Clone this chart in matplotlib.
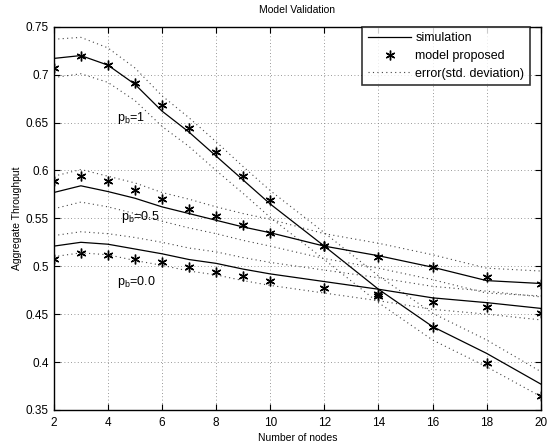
import numpy as np
import matplotlib
matplotlib.use("Agg")
import matplotlib.pyplot as plt

### data
nodes = [2, 3, 4, 5, 6, 7, 8, 9, 10, 12, 14, 16, 18, 20]

sim_pb1 = [0.717, 0.720, 0.710, 0.690, 0.662, 0.640, 0.615, 0.590, 0.565, 0.521, 0.476, 0.437, 0.409, 0.377]
mod_pb1 = [0.707, 0.720, 0.710, 0.691, 0.668, 0.644, 0.619, 0.594, 0.569, 0.521, 0.469, 0.437, 0.399, 0.365]
std_pb1 = [0.020, 0.019, 0.018, 0.017, 0.016, 0.015, 0.015, 0.014, 0.014, 0.014, 0.014, 0.014, 0.014, 0.013]

sim_pb05 = [0.577, 0.584, 0.578, 0.571, 0.562, 0.555, 0.548, 0.541, 0.535, 0.521, 0.511, 0.499, 0.485, 0.482]
mod_pb05 = [0.589, 0.594, 0.589, 0.580, 0.570, 0.560, 0.552, 0.543, 0.535, 0.521, 0.510, 0.499, 0.489, 0.481]
std_pb05 = [0.017, 0.017, 0.016, 0.016, 0.015, 0.015, 0.014, 0.014, 0.014, 0.013, 0.013, 0.013, 0.013, 0.013]

sim_pb0 = [0.521, 0.525, 0.523, 0.518, 0.513, 0.507, 0.503, 0.497, 0.492, 0.484, 0.476, 0.467, 0.462, 0.456]
mod_pb0 = [0.508, 0.514, 0.512, 0.508, 0.504, 0.499, 0.494, 0.490, 0.485, 0.477, 0.471, 0.463, 0.457, 0.451]
std_pb0 = [0.011, 0.011, 0.011, 0.012, 0.012, 0.012, 0.012, 0.012, 0.012, 0.012, 0.012, 0.012, 0.012, 0.012]

curve_labels = ["p$_\\mathregular{b}$=1", "p$_\\mathregular{b}$=0.5", "p$_\\mathregular{b}$=0.0"]
label_pos = [(4.35, 0.655), (4.5, 0.551), (4.33, 0.484)]

plt.rcParams['font.family'] = ['Liberation Sans', 'DejaVu Sans']
plt.rcParams['font.size'] = 8
plt.rcParams['mathtext.fontset'] = 'custom'
plt.rcParams['mathtext.rm'] = 'Liberation Sans'

fig = plt.figure(figsize=(5.49, 4.47), dpi=100)
ax = fig.add_axes([0.098, 0.083, 0.887, 0.857])

x = np.array(nodes)
star = (6, 2, 0)
first = True
for sim, mod, std in [(sim_pb1, mod_pb1, std_pb1), (sim_pb05, mod_pb05, std_pb05), (sim_pb0, mod_pb0, std_pb0)]:
    sim = np.array(sim)
    std = np.array(std)
    ax.plot(x, sim, color='black', lw=0.9, label='simulation' if first else None)
    ax.plot(x, mod, linestyle='none', marker=star, ms=7, mew=1.0, color='black',
            label='model proposed' if first else None)
    ax.plot(x, sim + std, color='#444444', lw=0.8, linestyle=(0, (1, 3)),
            label='error(std. deviation)' if first else None)
    ax.plot(x, sim - std, color='#444444', lw=0.8, linestyle=(0, (1, 3)))
    first = False

for txt, (tx, ty) in zip(curve_labels, label_pos):
    ax.text(tx, ty, txt, fontsize=9, va='center', ha='left')

ax.set_xlim(2, 20)
ax.set_ylim(0.35, 0.75)
ax.set_xticks(range(2, 21, 2))
ax.set_yticks(np.arange(0.35, 0.751, 0.05))
ax.set_yticklabels(['0.35', '0.4', '0.45', '0.5', '0.55', '0.6', '0.65', '0.7', '0.75'])
ax.grid(True, color='#777777', linestyle=(0, (1, 3)), lw=0.6)
ax.tick_params(direction='in', top=True, right=True, length=4, labelsize=8.5)
ax.tick_params(axis='x', pad=5)
for sp in ax.spines.values():
    sp.set_linewidth(1.0)

ax.set_title('Model Validation', fontsize=7.5, pad=10)
ax.set_xlabel('Number of nodes', fontsize=7.5, labelpad=3)
ax.set_ylabel('Aggregate Throughput', fontsize=7.5, labelpad=3)

leg = ax.legend(loc='upper right', bbox_to_anchor=(1 - 11 / 487, 1.0), fontsize=9,
                frameon=True, fancybox=False, borderaxespad=0, handlelength=3.5,
                handletextpad=0.3, labelspacing=0.45, borderpad=0.45)
leg.get_frame().set_edgecolor('black')
leg.get_frame().set_linewidth(1.2)

fig.savefig('out.png', dpi=100)
